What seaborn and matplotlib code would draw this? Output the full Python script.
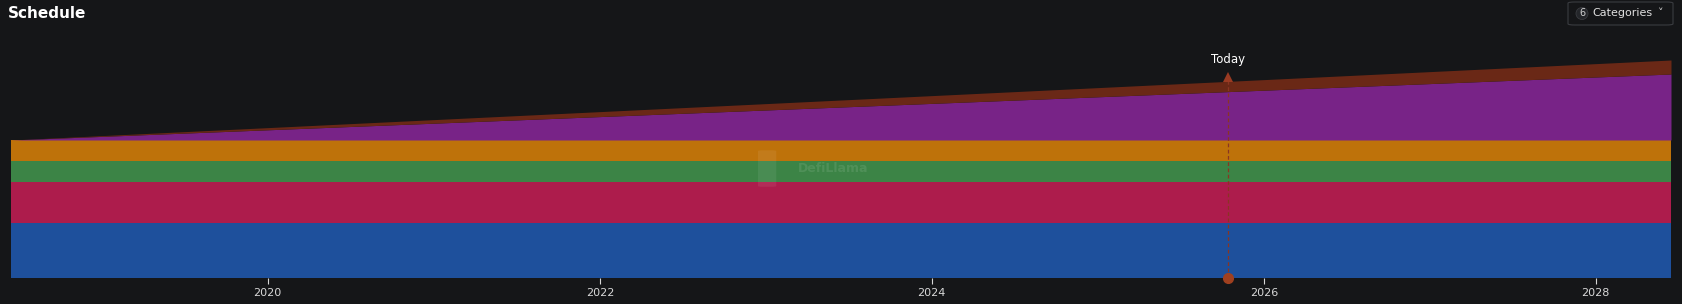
import numpy as np
import pandas as pd
import matplotlib
matplotlib.use("Agg")
import matplotlib.pyplot as plt
import matplotlib.dates as mdates
from matplotlib.patches import FancyBboxPatch, Circle
import seaborn as sns

# ---- data (arbitrary units) ----
dates = ["2018-06-15", "2028-06-15"]
series_names = ["Blue", "Red", "Green", "Orange", "Purple", "Brown"]
blue = [55.3, 55.3]
red = [41.0, 41.0]
green = [20.4, 20.4]
orange = [21.3, 21.3]
purple = [0.0, 66.0]
brown = [0.0, 14.0]
colors = ["#1E509C", "#AD1C4C", "#3C8446", "#BE720A", "#782387", "#6A2816"]
tick_years = [2020, 2022, 2024, 2026, 2028]
today = "2025-10-15"

BG = "#151618"
sns.set_theme(style="dark")
plt.rcParams["font.family"] = ["DejaVu Sans"]

fig = plt.figure(figsize=(16.82, 3.04), dpi=100, facecolor=BG)
ax = fig.add_axes([11 / 1682, 26 / 304, 1660 / 1682, 228 / 304])
ax.set_facecolor(BG)

x = pd.to_datetime(dates)
ax.stackplot(x, blue, red, green, orange, purple, brown, colors=colors,
             linewidth=0, labels=series_names)

ax.set_xlim(x[0], x[-1])
ax.set_ylim(0, 228)
ax.set_yticks([])
ax.set_xticks([pd.Timestamp(f"{y}-01-01") for y in tick_years])
ax.set_xticklabels([str(y) for y in tick_years])
ax.tick_params(axis="x", colors="#d8d8d8", labelsize=8, length=4, width=0.8,
               direction="out", pad=3, bottom=True)
for s in ax.spines.values():
    s.set_visible(False)
ax.grid(False)

# Today marker
t = pd.Timestamp(today)
total_top = np.interp(mdates.date2num(t), mdates.date2num(x),
                      np.sum([blue, red, green, orange, purple, brown], axis=0))
ax.plot([t, t], [0, total_top], color="#8A3522", lw=0.9, ls=(0, (3, 2)))
ax.plot([t], [total_top + 4], marker="^", color="#9A3A22", markersize=7,
        markeredgewidth=0, clip_on=False)
ax.plot([t], [0], marker="o", color="#A0401F", markersize=7, clip_on=False)
fig.text(1228 / 1682, 1 - 59 / 304, "Today", ha="center", va="center",
         color="white", fontsize=8.5)

# watermark
ax.add_patch(FancyBboxPatch((0.450, 0.40), 0.011, 0.16, transform=ax.transAxes,
                            boxstyle="round,pad=0,rounding_size=0.003",
                            facecolor="white", alpha=0.07, edgecolor="none"))
ax.text(0.495, 0.482, "DefiLlama", transform=ax.transAxes, ha="center", va="center",
        color="white", alpha=0.10, fontsize=9, fontweight="bold")

# title
fig.text(8 / 1682, 1 - 14 / 304, "Schedule", color="white", fontsize=11,
         fontweight="bold", ha="left", va="center")

# Categories button
btn = FancyBboxPatch((1568 / 1682, 1 - 25 / 304), 105 / 1682, 23 / 304,
                     boxstyle="round,pad=0,rounding_size=0.004",
                     transform=fig.transFigure, facecolor=BG,
                     edgecolor="#3a3c40", linewidth=0.8)
fig.patches.append(btn)
fig.patches.append(Circle((1582, 304 - 13.5), 6, transform=None,
                          facecolor="#24262a", edgecolor="#3a3c40", linewidth=0.6))
fig.text(1582 / 1682, 1 - 13.5 / 304, "6", color="#d0d0d0", fontsize=7,
         ha="center", va="center")
fig.text(1592 / 1682, 1 - 13.5 / 304, "Categories", color="#e0e0e0", fontsize=8,
         ha="left", va="center")
fig.text(1661 / 1682, 1 - 13 / 304, "\u02C5", color="#d0d0d0", fontsize=8,
         ha="center", va="center")

fig.savefig("out.png", dpi=100, facecolor=BG)
